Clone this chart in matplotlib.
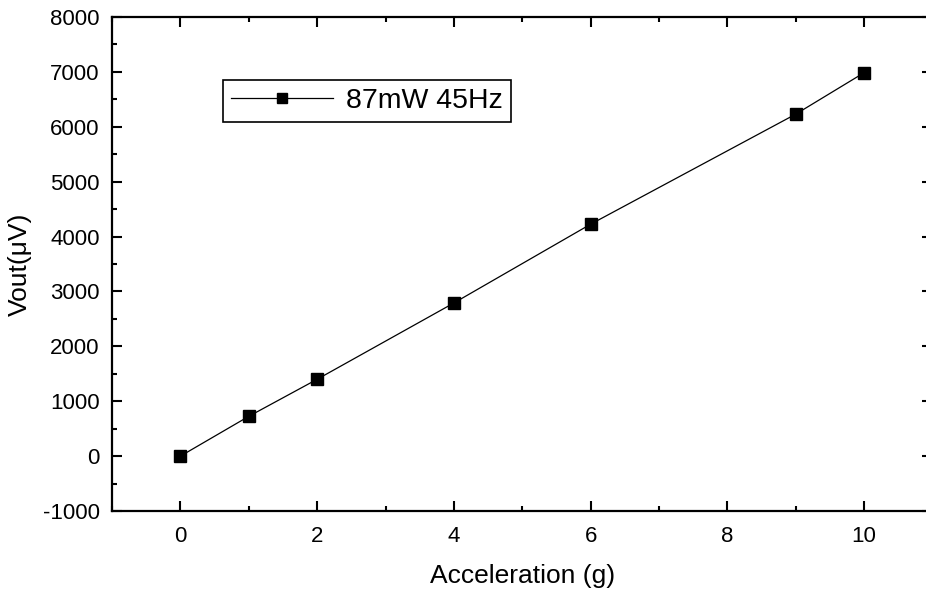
import matplotlib
matplotlib.use("Agg")
import matplotlib.pyplot as plt
from matplotlib.ticker import MultipleLocator

plt.rcParams['font.family'] = ['Liberation Sans', 'DejaVu Sans']
plt.rcParams['axes.unicode_minus'] = False

# data
accel = [0, 1, 2, 4, 6, 9, 10]
vout = [0, 725, 1400, 2790, 4225, 6230, 6985]
series_label = '87mW 45Hz'

fig = plt.figure(figsize=(9.26, 5.94), dpi=100)
ax = fig.add_axes([0.121, 0.1397, 0.886, 0.8317])

ax.plot(accel, vout, color='black', lw=0.9, marker='s', markersize=9,
        label=series_label)

ax.set_xlim(-1, 11)
ax.set_ylim(-1000, 8000)
ax.xaxis.set_major_locator(MultipleLocator(2))
ax.xaxis.set_minor_locator(MultipleLocator(1))
ax.yaxis.set_major_locator(MultipleLocator(1000))
ax.yaxis.set_minor_locator(MultipleLocator(500))

ax.tick_params(which='both', direction='in', top=True, right=True,
               width=1.5, labelsize=16)
ax.tick_params(axis='x', pad=11)
ax.tick_params(axis='y', pad=9)
ax.tick_params(which='major', length=7)
ax.tick_params(which='minor', length=3.5)
for s in ax.spines.values():
    s.set_linewidth(1.6)

ax.set_xlabel('Acceleration (g)', fontsize=19, labelpad=12)
ax.set_ylabel('Vout(\u03bcV)', fontsize=19, labelpad=8)

leg = ax.legend(loc='upper left', bbox_to_anchor=(0.135, 0.873), fontsize=20.5,
                fancybox=False, edgecolor='black', framealpha=1,
                handlelength=3.6, handletextpad=0.45, borderpad=0.28,
                borderaxespad=0, markerscale=0.8)
leg.get_frame().set_linewidth(1.2)

fig.savefig('out.png', dpi=100)
